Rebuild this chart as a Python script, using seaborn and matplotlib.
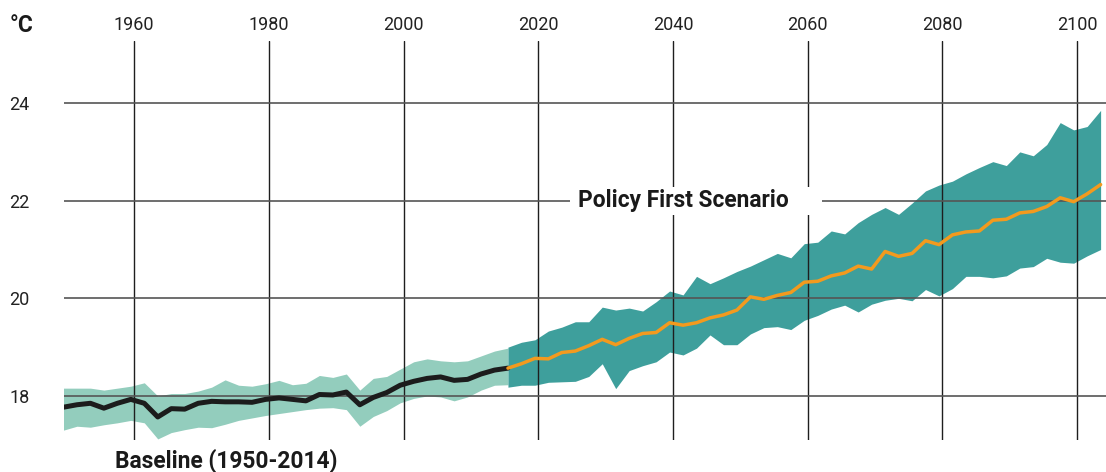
import numpy as np
import pandas as pd
import matplotlib
matplotlib.use("Agg")
import matplotlib.pyplot as plt
from matplotlib.patches import Rectangle
import seaborn as sns

# baseline 1950-2016, every 2 years
base_years = np.arange(1950, 2017, 2)
base_mid = [17.77, 17.82, 17.85, 17.75, 17.85, 17.93, 17.85, 17.57, 17.74, 17.73,
            17.85, 17.89, 17.88, 17.88, 17.87, 17.93, 17.96, 17.93, 17.90, 18.03,
            18.02, 18.08, 17.82, 17.97, 18.07, 18.22, 18.30, 18.36, 18.39, 18.32,
            18.34, 18.45, 18.53, 18.57]
base_hi = [18.16, 18.16, 18.16, 18.12, 18.16, 18.20, 18.27, 18.00, 18.05, 18.05,
           18.10, 18.18, 18.33, 18.22, 18.20, 18.25, 18.32, 18.23, 18.26, 18.42,
           18.38, 18.45, 18.12, 18.36, 18.40, 18.55, 18.70, 18.76, 18.72, 18.70,
           18.72, 18.82, 18.92, 18.98]
base_lo = [17.30, 17.38, 17.36, 17.41, 17.45, 17.50, 17.45, 17.12, 17.25, 17.31,
           17.36, 17.35, 17.42, 17.50, 17.55, 17.60, 17.64, 17.68, 17.72, 17.75,
           17.76, 17.72, 17.38, 17.58, 17.70, 17.86, 17.95, 18.00, 17.98, 17.90,
           17.98, 18.12, 18.22, 18.23]

# policy first scenario 2016-2104, every 2 years
scen_years = np.arange(2016, 2105, 2)
scen_mid = [18.57, 18.66, 18.77, 18.76, 18.89, 18.92, 19.03, 19.16, 19.05, 19.18,
            19.28, 19.30, 19.50, 19.45, 19.50, 19.60, 19.66, 19.76, 20.03, 19.98,
            20.06, 20.12, 20.33, 20.35, 20.46, 20.52, 20.66, 20.60, 20.96, 20.86,
            20.92, 21.18, 21.10, 21.30, 21.36, 21.38, 21.60, 21.62, 21.75, 21.78,
            21.88, 22.06, 21.98, 22.14, 22.33]
scen_hi = [19.00, 19.10, 19.15, 19.33, 19.41, 19.52, 19.52, 19.82, 19.76, 19.80,
           19.74, 19.93, 20.15, 20.07, 20.45, 20.30, 20.42, 20.55, 20.66, 20.79,
           20.92, 20.83, 21.12, 21.15, 21.38, 21.32, 21.55, 21.72, 21.86, 21.72,
           21.95, 22.20, 22.32, 22.40, 22.55, 22.68, 22.80, 22.72, 23.00, 22.92,
           23.15, 23.60, 23.45, 23.52, 23.85]
scen_lo = [18.18, 18.22, 18.22, 18.28, 18.29, 18.30, 18.40, 18.66, 18.15, 18.52,
           18.62, 18.70, 18.90, 18.84, 18.98, 19.25, 19.05, 19.05, 19.27, 19.40,
           19.42, 19.36, 19.55, 19.65, 19.78, 19.86, 19.72, 19.88, 19.96, 20.00,
           19.95, 20.18, 20.05, 20.20, 20.45, 20.45, 20.42, 20.46, 20.62, 20.65,
           20.82, 20.74, 20.72, 20.87, 21.00]

x_ticks = [1960, 1980, 2000, 2020, 2040, 2060, 2080, 2100]
y_ticks = [18, 20, 22, 24]

sns.set_theme(style="white")
plt.rcParams["font.family"] = ["Roboto", "DejaVu Sans"]

base = pd.DataFrame({"year": base_years - 0.5, "mid": base_mid, "hi": base_hi, "lo": base_lo})
scen = pd.DataFrame({"year": scen_years - 0.5, "mid": scen_mid, "hi": scen_hi, "lo": scen_lo})

fig = plt.figure(figsize=(11.06, 4.72), dpi=100)
ax = fig.add_axes([0.058, 0.068, 0.942, 0.845])

ax.fill_between(base["year"], base["lo"], base["hi"], color="#93cdbd", lw=0, zorder=1)
ax.fill_between(scen["year"], scen["lo"], scen["hi"], color="#3e9f9c", lw=0, zorder=1)

sns.lineplot(data=base, x="year", y="mid", ax=ax, color="#1c1c1c", linewidth=3.6,
             zorder=3, solid_capstyle="round", solid_joinstyle="round")
sns.lineplot(data=scen, x="year", y="mid", ax=ax, color="#f39a1e", linewidth=2.5,
             zorder=3, solid_capstyle="round", solid_joinstyle="round")

ax.set_xlim(1949.6, 2104.3)
ax.set_ylim(17.1, 25.27)
ax.set_xticks(x_ticks)
ax.set_yticks(y_ticks)
ax.xaxis.tick_top()
ax.tick_params(axis="x", length=0, pad=5, labelsize=13, labelcolor="#222222")
ax.tick_params(axis="y", length=0, pad=25, labelsize=13, labelcolor="#222222")
ax.set_xlabel("")
ax.set_ylabel("")
for s in ax.spines.values():
    s.set_visible(False)

ax.set_axisbelow(False)
ax.xaxis.grid(True, color="#1e1e1e", linewidth=1.0)
ax.yaxis.grid(True, color="#555555", linewidth=1.2)

# label for the scenario, on a white patch that cuts the grid
ax.add_patch(Rectangle((2024.7, 21.71), 37.4, 0.57, facecolor="white",
                       edgecolor="none", zorder=4))
ax.text(2025.9, 22.0, "Policy First Scenario", fontsize=16.4, fontweight="bold",
        color="#1a1a1a", va="center", ha="left", zorder=5)

fig.text(0.104, 0.023, "Baseline (1950-2014)", fontsize=16.4, fontweight="bold",
         color="#1a1a1a", va="center", ha="left")
fig.text(0.009, 0.947, "°C", fontsize=16.4, fontweight="bold",
         color="#1a1a1a", va="center", ha="left")

fig.savefig("out.png", dpi=100)
